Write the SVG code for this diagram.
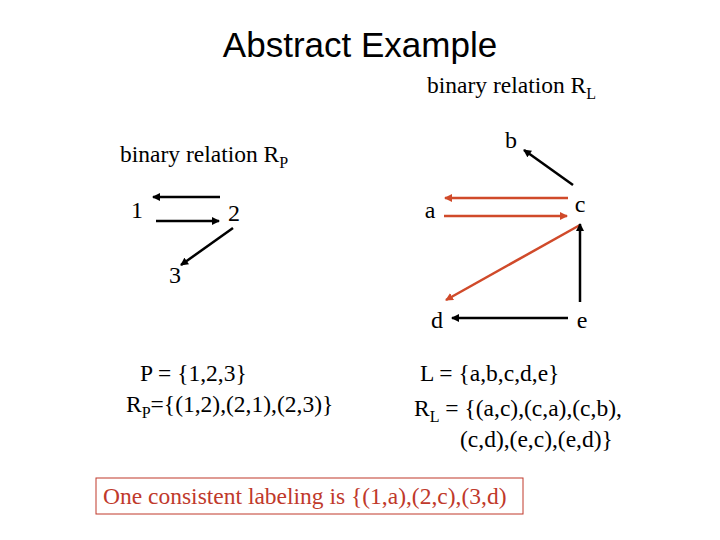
<svg xmlns="http://www.w3.org/2000/svg" width="720" height="540" viewBox="0 0 720 540">
<style>
.t{font-family:"Liberation Serif",serif;font-size:23.5px;fill:#000}
.n{font-family:"Liberation Serif",serif;font-size:24px;text-anchor:middle}
.k{stroke:#000;stroke-width:2.5;fill:none}
.r{stroke:#d04a2a;stroke-width:2.5;fill:none}
</style>
<defs>
<marker id="ak" markerWidth="8" markerHeight="8" refX="7" refY="4" orient="auto" markerUnits="userSpaceOnUse" viewBox="0 0 8 8"><path d="M0,0L8,4L0,8z" fill="#000"/></marker>
<marker id="ar" markerWidth="8" markerHeight="8" refX="7" refY="4" orient="auto" markerUnits="userSpaceOnUse" viewBox="0 0 8 8"><path d="M0,0L8,4L0,8z" fill="#d04a2a"/></marker>
</defs>
<rect width="720" height="540" fill="#fff"/>
<text x="360" y="57" font-family="Liberation Sans,sans-serif" font-size="35" text-anchor="middle">Abstract Example</text>
<text class="t" x="427" y="93">binary relation R<tspan font-size="16" dy="6">L</tspan></text>
<text class="t" x="120" y="162">binary relation R<tspan font-size="16" dy="6">P</tspan></text>
<g id="n1"><text class="n" x="137" y="218">1</text></g>
<g id="n2"><text class="n" x="234" y="221">2</text></g>
<g id="n3"><text class="n" x="175" y="283">3</text></g>
<g id="na"><text class="n" x="430" y="218">a</text></g>
<g id="nb"><text class="n" x="511" y="148">b</text></g>
<g id="nc"><text class="n" x="580" y="212">c</text></g>
<g id="nd"><text class="n" x="437" y="328">d</text></g>
<g id="ne"><text class="n" x="582" y="328">e</text></g>
<g id="connectors">
<line class="k" x1="220" y1="197" x2="153" y2="197" marker-end="url(#ak)"/>
<line class="k" x1="156" y1="221" x2="219" y2="221" marker-end="url(#ak)"/>
<line class="k" stroke-width="1.5" x1="233" y1="228" x2="181" y2="265" marker-end="url(#ak)"/>
<line class="r" x1="568" y1="198" x2="445" y2="198" marker-end="url(#ar)"/>
<line class="r" x1="444" y1="216" x2="567" y2="216" marker-end="url(#ar)"/>
<line class="k" stroke-width="1.5" x1="573" y1="185" x2="524" y2="150" marker-end="url(#ak)"/>
<line class="r" stroke-width="1.5" x1="580" y1="225" x2="446" y2="300" marker-end="url(#ar)"/>
<line class="k" x1="580" y1="302" x2="580" y2="224" marker-end="url(#ak)"/>
<line class="k" x1="568" y1="318" x2="452" y2="318" marker-end="url(#ak)"/>
</g>
<text class="t" x="140" y="381">P = {1,2,3}</text>
<text class="t" x="126" y="412">R<tspan font-size="16" dy="6">P</tspan><tspan dy="-6">={(1,2),(2,1),(2,3)}</tspan></text>
<text class="t" x="420" y="381">L = {a,b,c,d,e}</text>
<text class="t" x="414" y="416">R<tspan font-size="16" dy="6">L</tspan><tspan dy="-6"> = {(a,c),(c,a),(c,b),</tspan></text>
<text class="t" x="460" y="447">(c,d),(e,c),(e,d)}</text>
<rect x="96" y="478" width="427" height="36" fill="none" stroke="#c0392b" stroke-width="1"/>
<text x="103" y="504" font-family="Liberation Serif,serif" font-size="23.5" fill="#c0392b">One consistent labeling is {(1,a),(2,c),(3,d)</text>
</svg>
